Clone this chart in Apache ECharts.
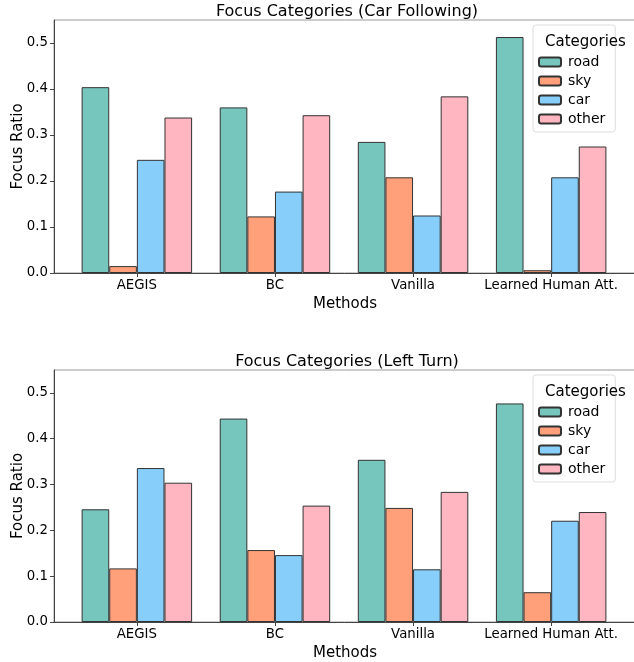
<!DOCTYPE html>
<html>
<head>
<meta charset="utf-8">
<script src="https://cdn.jsdelivr.net/npm/echarts@6/dist/echarts.min.js"></script>
<style>
  html, body { margin: 0; padding: 0; background: #fff; }
  #chart { width: 634px; height: 662px; }
</style>
</head>
<body>
<div id="chart"></div>
<script>
// Methods compared along the x axis
const methods = ['AEGIS', 'BC', 'Vanilla', 'Learned Human Att.'];
// Focus categories (one bar per category within each method group)
const categories = ['road', 'sky', 'car', 'other'];
const categoryColors = ['#76c6bd', '#ffa07a', '#87cefa', '#ffb6c1'];

// Focus ratios, Car Following scenario (per category, ordered by method)
const carFollowingRoad  = [0.404, 0.360, 0.285, 0.513];
const carFollowingSky   = [0.015, 0.123, 0.208, 0.006];
const carFollowingCar   = [0.246, 0.177, 0.125, 0.208];
const carFollowingOther = [0.338, 0.343, 0.384, 0.275];

// Focus ratios, Left Turn scenario
const leftTurnRoad  = [0.246, 0.444, 0.354, 0.477];
const leftTurnSky   = [0.117, 0.157, 0.249, 0.065];
const leftTurnCar   = [0.336, 0.146, 0.115, 0.221];
const leftTurnOther = [0.304, 0.254, 0.284, 0.240];

const yTicks = [0, 0.1, 0.2, 0.3, 0.4, 0.5];

const carFollowing = [carFollowingRoad, carFollowingSky, carFollowingCar, carFollowingOther];
const leftTurn = [leftTurnRoad, leftTurnSky, leftTurnCar, leftTurnOther];

const FONT = 'DejaVu Sans';
const axisColor = '#444';
const plotLeft = 54, plotWidth = 582;
const xMin = -0.6, xMax = xMin + plotWidth / 138.1;
const barPx = 0.2 * (plotWidth / (xMax - xMin));

const panels = [
  { title: 'Focus Categories (Car Following)', top: 20, height: 253, values: carFollowing },
  { title: 'Focus Categories (Left Turn)', top: 370, height: 252, values: leftTurn }
];

const option = {
  animation: false,
  textStyle: { fontFamily: FONT },
  title: [],
  legend: [],
  grid: [],
  xAxis: [],
  yAxis: [],
  series: []
};

panels.forEach((p, i) => {
  option.title.push({
    text: p.title,
    left: plotLeft + plotWidth / 2 - 3, top: p.top - 21,
    textAlign: 'center',
    textStyle: { fontFamily: FONT, fontSize: 16, fontWeight: 'normal', color: '#000' }
  });
  option.title.push({
    text: 'Categories',
    left: 540, top: p.top + 10,
    textStyle: { fontFamily: FONT, fontSize: 15, fontWeight: 'normal', color: '#000' }
  });
  option.legend.push({
    data: categories,
    orient: 'vertical',
    left: 533, top: p.top + 5,
    padding: [30, 10, 6, 5],
    itemWidth: 22, itemHeight: 9,
    itemGap: 5,
    borderColor: '#dddddd', borderWidth: 1, borderRadius: 3,
    backgroundColor: 'rgba(255,255,255,0.8)',
    textStyle: { fontFamily: FONT, fontSize: 14, color: '#000', padding: [0, 0, 0, 2] }
  });
  option.grid.push({
    left: plotLeft, top: p.top, width: plotWidth, height: p.height,
    show: true, borderColor: '#999', borderWidth: 1,
    containLabel: false, outerBoundsMode: 'none'
  });
  option.xAxis.push({
    type: 'value', gridIndex: i, min: xMin, max: xMax,
    name: 'Methods', nameLocation: 'middle', nameGap: 24, nameMoveOverlap: false,
    nameTextStyle: { fontFamily: FONT, fontSize: 15, color: '#000' },
    splitLine: { show: false },
    axisLine: { show: true, onZero: false, lineStyle: { color: axisColor, width: 1 } },
    axisTick: { show: true, length: 4, customValues: [0, 1, 2, 3], lineStyle: { color: axisColor } },
    axisLabel: {
      customValues: [0, 1, 2, 3], margin: 6,
      fontFamily: FONT, fontSize: 13.3, color: '#000',
      formatter: v => methods[Math.round(v)]
    }
  });
  option.yAxis.push({
    type: 'value', gridIndex: i, min: 0, max: 0.55,
    name: 'Focus Ratio', nameLocation: 'middle', nameGap: 28, nameRotate: 90,
    nameMoveOverlap: false,
    nameTextStyle: { fontFamily: FONT, fontSize: 15, color: '#000' },
    splitLine: { show: false },
    axisLine: { show: true, onZero: false, lineStyle: { color: axisColor, width: 1 } },
    axisTick: { show: true, length: 4, customValues: yTicks, lineStyle: { color: axisColor } },
    axisLabel: {
      customValues: yTicks, margin: 6,
      fontFamily: FONT, fontSize: 13.3, color: '#000',
      formatter: v => v.toFixed(1)
    }
  });
  categories.forEach((c, k) => {
    option.series.push({
      type: 'bar', name: c,
      xAxisIndex: i, yAxisIndex: i,
      barWidth: barPx, barGap: '0%',
      itemStyle: { color: categoryColors[k], borderColor: '#333', borderWidth: 1 },
      data: p.values[k].map((v, j) => [j, v])
    });
  });
});

const chart = echarts.init(document.getElementById('chart'), null, { renderer: 'canvas' });
chart.setOption(option);
</script>
</body>
</html>
